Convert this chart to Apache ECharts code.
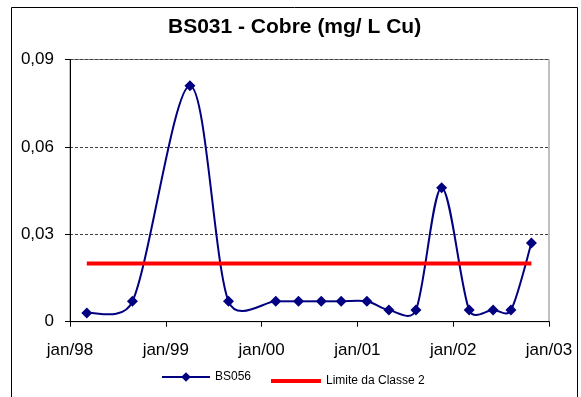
<!DOCTYPE html>
<html>
<head>
<meta charset="utf-8">
<script src="https://cdn.jsdelivr.net/npm/echarts@6/dist/echarts.min.js"></script>
<style>
html,body{margin:0;padding:0;background:#fff;}
#chart{width:581px;height:397px;}
</style>
</head>
<body>
<div id="chart"></div>
<script>
const titleText = 'BS031 - Cobre (mg/ L Cu)';
const dates = ['1998-03-06','1998-08-27','1999-04-03','1999-08-28','2000-02-24','2000-05-21','2000-08-16','2000-10-31','2001-02-06','2001-05-01','2001-08-12','2001-11-18','2002-03-03','2002-06-02','2002-08-09','2002-10-26'];
const bs056 = [0.003,0.007,0.081,0.007,0.007,0.007,0.007,0.007,0.007,0.004,0.004,0.046,0.004,0.004,0.004,0.027];
const limiteClasse2 = [0.02,0.02,0.02,0.02,0.02,0.02,0.02,0.02,0.02,0.02,0.02,0.02,0.02,0.02,0.02,0.02];
const yTicks = [0, 0.03, 0.06, 0.09];
const xYearMin = 1998, xYearMax = 2003;

// convert 'YYYY-MM-DD' to fractional year for the value axis
function toYear(s){
  const p = s.split('-').map(Number);
  const start = Date.UTC(p[0],0,1), end = Date.UTC(p[0]+1,0,1);
  return p[0] + (Date.UTC(p[0],p[1]-1,p[2]) - start) / (end - start);
}
const xs = dates.map(toYear);
const n = xs.length;

// Excel-like smoothed curve: 1/6 tangents, arms clamped to half the segment length
function arm(a, b, segLen){
  let vx = (b[0] - a[0]) / 6, vy = (b[1] - a[1]) / 6;
  const len = Math.hypot(vx, vy), lim = segLen / 2;
  if (len > lim && len > 0){ vx *= lim / len; vy *= lim / len; }
  return [vx, vy];
}
function renderCurve(params, api){
  const i = params.dataIndex;
  if (i >= n - 1) return null;
  const P = k => { k = Math.max(0, Math.min(n - 1, k)); return api.coord([xs[k], bs056[k]]); };
  const p0 = P(i - 1), p1 = P(i), p2 = P(i + 1), p3 = P(i + 2);
  const seg = Math.hypot(p2[0] - p1[0], p2[1] - p1[1]);
  const a1 = arm(p0, p2, seg), a2 = arm(p1, p3, seg);
  return {
    type:'bezierCurve',
    shape:{
      x1:p1[0], y1:p1[1], x2:p2[0], y2:p2[1],
      cpx1:p1[0] + a1[0], cpy1:p1[1] + a1[1],
      cpx2:p2[0] - a2[0], cpy2:p2[1] - a2[1]
    },
    style:{stroke:'#000080', lineWidth:2, fill:null},
    silent:true
  };
}

const FONT = 'Liberation Sans, Arial, sans-serif';
const chart = echarts.init(document.getElementById('chart'), null, {renderer:'canvas'});
chart.setOption({
  animation:false,
  backgroundColor:'#fff',
  graphic:[{type:'rect', shape:{x:11.5,y:7.5,width:566,height:400}, style:{fill:'none',stroke:'#000',lineWidth:1}, z:-1}],
  title:{text:titleText, left:163, top:12, textStyle:{fontFamily:FONT,fontSize:21,fontWeight:'bold',color:'#000'}},
  legend:[
    {left:156, top:366, itemWidth:48, itemHeight:12,
     textStyle:{fontFamily:FONT,fontSize:12,color:'#000'},
     lineStyle:{color:'#000080', width:2, opacity:1},
     data:[{name:'BS056'}]},
    {left:266, top:370, itemWidth:50, itemHeight:4,
     textStyle:{fontFamily:FONT,fontSize:12,color:'#000'},
     data:[{name:'Limite da Classe 2', icon:'rect', itemStyle:{color:'#ff0000'}}]}
  ],
  grid:{left:70, right:32, top:59.5, bottom:75.3, show:true, borderColor:'#808080', borderWidth:1},
  xAxis:[{
    type:'value', min:xYearMin, max:xYearMax, interval:1,
    axisLine:{show:true, onZero:false, lineStyle:{color:'#000',width:1}},
    axisTick:{show:true, length:5, inside:false, lineStyle:{color:'#000'}},
    splitLine:{show:false},
    axisLabel:{fontFamily:FONT,fontSize:17,color:'#000',margin:20,
      formatter:function(v){return 'jan/'+String(Math.round(v)).slice(2);}}
  },{
    type:'value', min:xYearMin, max:xYearMax, position:'top',
    axisLine:{show:true, lineStyle:{color:'#000',width:1}},
    axisTick:{show:false}, axisLabel:{show:false}, splitLine:{show:false}
  }],
  yAxis:{
    type:'value', min:0, max:0.09, interval:0.03,
    axisLine:{show:true, lineStyle:{color:'#000',width:1}},
    axisTick:{show:true, length:5, lineStyle:{color:'#000'}},
    splitLine:{show:true, lineStyle:{color:'#404040',type:[3,2],width:1}},
    axisLabel:{fontFamily:FONT,fontSize:17,color:'#000',margin:16,
      formatter:function(v){return v===0?'0':v.toFixed(2).replace('.',',');}}
  },
  series:[
    {name:'BS056 curva', type:'custom', renderItem:renderCurve,
     data:xs.map((x,i)=>[x,bs056[i]]), encode:{x:0,y:1}, z:1, clip:false},
    {name:'Limite da Classe 2', type:'line', data:xs.map((x,i)=>[x,limiteClasse2[i]]),
     symbol:'none', lineStyle:{color:'#ff0000',width:4}, itemStyle:{color:'#ff0000'}, z:2},
    {name:'BS056', type:'line', data:xs.map((x,i)=>[x,bs056[i]]),
     symbol:'diamond', symbolSize:11, showAllSymbol:true,
     lineStyle:{color:'#000080',width:2,opacity:0}, itemStyle:{color:'#000080'}, z:3}
  ]
});
</script>
</body>
</html>
